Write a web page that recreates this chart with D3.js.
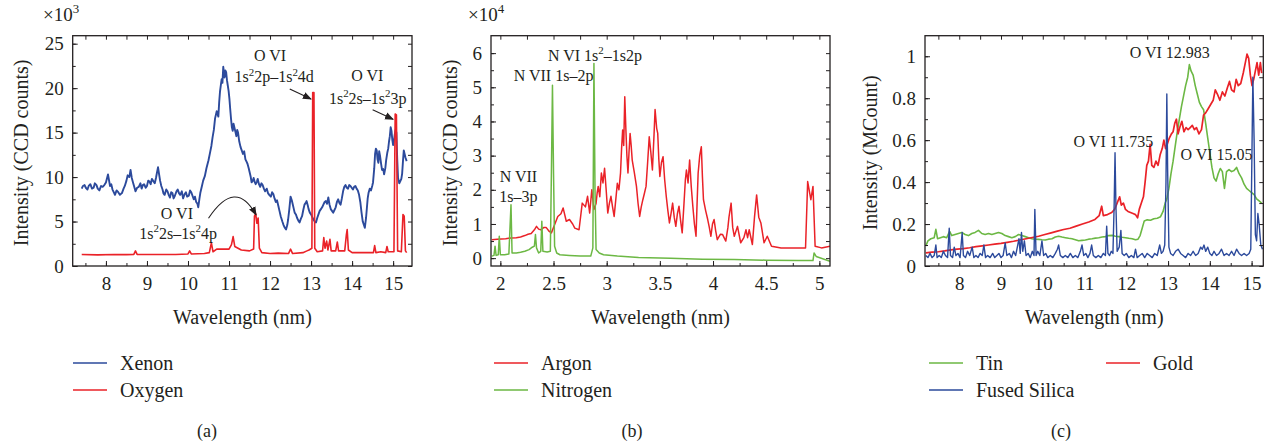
<!DOCTYPE html>
<html>
<head>
<meta charset="utf-8">
<script src="https://cdn.jsdelivr.net/npm/d3@7"></script>
<style>
  body { margin: 0; background: #fff; }
  text { font-family: "Liberation Serif", "DejaVu Serif", serif; fill: #231f20; }
</style>
</head>
<body>
<script>
// ---- data (wavelength in nm, intensity) ----
// (a) counts x10^3
const xenon = [[7.41,8.7],[7.44,9.0],[7.48,9.1],[7.51,8.8],[7.55,8.6],[7.58,9.0],[7.62,9.2],[7.66,8.7],[7.70,8.8],[7.73,9.3],[7.77,9.1],[7.80,8.7],[7.84,8.5],[7.88,9.0],[7.92,8.9],[7.96,9.1],[8.00,9.4],[8.05,10.3],[8.10,9.0],[8.13,9.2],[8.16,8.6],[8.19,8.3],[8.22,8.0],[8.26,8.5],[8.30,8.3],[8.34,8.0],[8.39,8.2],[8.43,8.7],[8.46,9.0],[8.50,9.6],[8.53,10.2],[8.57,10.0],[8.60,10.8],[8.63,9.9],[8.66,9.4],[8.69,8.9],[8.72,8.4],[8.76,8.8],[8.80,8.9],[8.84,9.3],[8.87,8.7],[8.90,9.1],[8.93,9.2],[8.97,8.8],[9.00,9.0],[9.03,9.6],[9.06,9.5],[9.09,9.2],[9.12,9.8],[9.16,9.5],[9.19,9.3],[9.22,9.9],[9.24,10.4],[9.27,11.1],[9.30,10.2],[9.32,9.6],[9.35,9.0],[9.38,8.6],[9.40,8.2],[9.43,8.0],[9.47,8.6],[9.50,8.4],[9.53,8.0],[9.56,7.7],[9.59,8.3],[9.62,8.2],[9.65,7.6],[9.68,7.9],[9.72,8.4],[9.75,8.6],[9.78,8.2],[9.81,8.0],[9.85,8.4],[9.88,7.6],[9.92,8.1],[9.95,8.3],[9.98,7.8],[10.02,7.9],[10.05,8.5],[10.08,8.3],[10.11,7.9],[10.14,7.5],[10.17,7.8],[10.20,7.2],[10.23,7.0],[10.25,6.6],[10.28,7.6],[10.30,8.2],[10.34,9.0],[10.37,9.6],[10.41,10.1],[10.45,11.0],[10.50,11.9],[10.54,12.8],[10.57,13.5],[10.60,14.5],[10.63,15.3],[10.66,16.6],[10.70,17.4],[10.74,16.8],[10.76,18.4],[10.78,19.6],[10.80,20.3],[10.82,21.0],[10.84,20.6],[10.86,22.4],[10.89,21.2],[10.91,22.0],[10.93,21.8],[10.95,20.9],[10.97,20.3],[10.99,19.7],[11.01,18.8],[11.03,17.6],[11.05,16.5],[11.07,15.6],[11.09,15.2],[11.11,16.0],[11.13,15.6],[11.16,15.0],[11.18,14.6],[11.20,15.3],[11.22,15.0],[11.25,14.0],[11.28,13.4],[11.31,13.0],[11.34,12.6],[11.37,12.9],[11.40,12.0],[11.43,11.7],[11.45,11.5],[11.48,11.0],[11.50,10.6],[11.53,10.0],[11.55,9.4],[11.58,9.6],[11.60,9.9],[11.63,9.4],[11.65,9.2],[11.68,9.5],[11.70,9.8],[11.73,9.2],[11.76,8.9],[11.79,9.3],[11.82,9.1],[11.85,8.7],[11.88,8.4],[11.92,8.7],[11.95,8.2],[11.98,8.0],[12.02,7.8],[12.05,8.3],[12.08,8.1],[12.11,7.6],[12.14,7.2],[12.17,7.4],[12.20,6.8],[12.23,6.2],[12.26,5.6],[12.30,5.0],[12.33,4.6],[12.36,4.3],[12.39,4.1],[12.42,4.6],[12.44,5.2],[12.47,6.4],[12.50,7.8],[12.53,7.4],[12.55,7.0],[12.58,6.4],[12.60,6.0],[12.63,5.8],[12.66,5.4],[12.69,5.1],[12.72,4.9],[12.75,5.3],[12.78,5.6],[12.81,6.3],[12.84,6.9],[12.87,7.1],[12.89,7.3],[12.92,6.8],[12.94,6.4],[12.97,6.0],[13.00,5.8],[13.03,5.5],[13.06,5.2],[13.09,5.0],[13.12,4.9],[13.15,5.4],[13.18,5.8],[13.21,6.2],[13.24,6.4],[13.27,6.6],[13.30,6.9],[13.33,7.2],[13.36,7.3],[13.39,7.0],[13.42,7.7],[13.45,6.9],[13.48,6.4],[13.51,6.2],[13.54,6.0],[13.57,6.3],[13.60,6.6],[13.63,7.2],[13.66,7.5],[13.69,7.1],[13.72,6.9],[13.75,7.6],[13.78,8.4],[13.81,8.9],[13.84,9.1],[13.87,8.8],[13.90,8.7],[13.93,9.1],[13.96,9.0],[13.99,8.8],[14.02,8.6],[14.05,8.9],[14.08,9.0],[14.11,8.7],[14.14,8.5],[14.17,8.0],[14.20,7.2],[14.23,6.0],[14.26,5.0],[14.29,4.6],[14.31,4.3],[14.34,5.4],[14.36,6.5],[14.38,7.6],[14.40,8.2],[14.43,8.7],[14.46,8.5],[14.49,9.0],[14.51,9.4],[14.54,11.0],[14.56,12.6],[14.58,13.2],[14.60,13.0],[14.62,12.0],[14.64,11.6],[14.66,12.9],[14.68,12.4],[14.71,11.4],[14.73,10.8],[14.76,10.9],[14.78,10.3],[14.81,11.0],[14.83,11.9],[14.86,12.8],[14.88,13.2],[14.90,14.0],[14.92,14.6],[14.94,15.6],[14.96,15.2],[14.98,14.2],[15.00,13.6],[15.02,14.1],[15.04,14.8],[15.06,15.3],[15.08,15.0],[15.10,12.0],[15.12,9.9],[15.15,9.3],[15.17,9.5],[15.20,9.8],[15.22,10.4],[15.24,11.8],[15.26,13.0],[15.28,12.6],[15.30,12.2],[15.33,11.8]];
const oxygen = [[7.41,1.3],[7.8,1.25],[8.2,1.3],[8.5,1.28],[8.68,1.3],[8.72,1.7],[8.76,1.3],[9.2,1.3],[9.7,1.3],[10.0,1.35],[10.04,1.7],[10.08,1.35],[10.4,1.4],[10.52,1.5],[10.57,2.6],[10.61,1.6],[10.7,1.9],[10.85,1.9],[11.0,1.9],[11.06,2.4],[11.1,3.3],[11.14,2.2],[11.3,1.8],[11.5,1.7],[11.6,1.9],[11.62,5.6],[11.65,5.9],[11.68,4.8],[11.71,5.4],[11.74,2.0],[11.8,1.5],[12.0,1.4],[12.2,1.45],[12.45,1.4],[12.5,1.9],[12.55,1.4],[12.8,1.5],[12.9,1.7],[12.95,1.8],[13.02,2.0],[13.04,19.5],[13.07,19.5],[13.09,2.0],[13.15,1.6],[13.28,1.7],[13.31,3.2],[13.34,2.0],[13.38,2.8],[13.41,1.8],[13.46,3.0],[13.49,1.7],[13.6,1.7],[13.64,2.7],[13.67,1.7],[13.82,1.7],[13.86,3.5],[13.88,4.1],[13.91,1.8],[14.0,1.5],[14.3,1.5],[14.52,1.5],[14.55,2.3],[14.58,1.5],[14.7,1.6],[14.82,1.5],[14.85,2.2],[14.88,1.6],[15.02,1.6],[15.05,17.1],[15.08,17.0],[15.11,1.7],[15.2,1.6],[15.24,5.8],[15.27,5.6],[15.3,1.7],[15.33,1.5]];

// (b) counts x10^4
const argon = [[1.92,0.54],[1.97,0.55],[2.01,0.56],[2.05,0.57],[2.10,0.59],[2.15,0.6],[2.19,0.62],[2.23,0.66],[2.26,0.7],[2.29,0.72],[2.32,0.83],[2.34,0.93],[2.36,0.85],[2.38,0.83],[2.41,0.9],[2.43,0.9],[2.46,0.78],[2.48,0.74],[2.51,0.98],[2.54,1.22],[2.57,1.3],[2.59,1.47],[2.62,1.08],[2.65,1.13],[2.68,1.0],[2.70,0.88],[2.74,0.83],[2.77,1.61],[2.80,1.5],[2.82,1.81],[2.84,1.32],[2.86,2.0],[2.88,1.42],[2.90,1.6],[2.91,1.9],[2.92,2.1],[2.935,1.8],[2.95,2.49],[2.965,2.2],[2.98,2.63],[2.995,2.0],[3.01,1.32],[3.025,1.6],[3.04,1.81],[3.055,1.5],[3.07,1.22],[3.085,1.7],[3.10,2.19],[3.115,2.0],[3.13,2.49],[3.14,3.2],[3.15,3.75],[3.16,3.3],[3.17,4.72],[3.18,3.8],[3.19,3.0],[3.20,2.49],[3.21,3.1],[3.22,3.65],[3.23,3.3],[3.24,2.87],[3.26,2.5],[3.28,2.1],[3.295,1.6],[3.31,1.22],[3.325,1.5],[3.34,1.71],[3.355,1.9],[3.37,2.1],[3.385,2.8],[3.40,3.55],[3.415,3.1],[3.43,2.58],[3.445,3.6],[3.455,4.35],[3.47,3.8],[3.48,3.65],[3.49,2.9],[3.50,2.39],[3.515,2.8],[3.53,2.97],[3.545,2.3],[3.56,1.81],[3.575,1.4],[3.59,1.03],[3.605,1.3],[3.62,1.61],[3.635,1.2],[3.65,0.93],[3.665,1.3],[3.68,1.52],[3.695,1.1],[3.71,0.74],[3.725,1.5],[3.74,2.3],[3.75,2.58],[3.765,2.2],[3.78,2.87],[3.795,2.1],[3.81,1.52],[3.825,1.0],[3.84,0.64],[3.85,1.6],[3.86,2.49],[3.875,3.0],[3.89,3.26],[3.90,2.4],[3.91,1.71],[3.93,1.4],[3.95,1.13],[3.965,0.9],[3.98,0.64],[3.995,1.0],[4.01,1.13],[4.025,0.8],[4.04,0.54],[4.07,0.7],[4.09,0.69],[4.12,0.5],[4.14,0.9],[4.15,1.2],[4.17,1.61],[4.185,0.9],[4.20,0.64],[4.23,0.93],[4.26,0.45],[4.29,0.6],[4.31,0.83],[4.325,0.6],[4.34,0.83],[4.37,0.4],[4.39,1.2],[4.41,1.85],[4.43,1.2],[4.45,1.03],[4.48,0.45],[4.51,0.64],[4.55,0.35],[4.64,0.3],[4.76,0.3],[4.87,0.3],[4.89,2.24],[4.92,1.71],[4.94,2.1],[4.96,0.35],[5.02,0.3],[5.10,0.35]];
const nitrogen = [[1.92,0.06],[1.94,0.08],[1.95,0.35],[1.96,0.08],[1.98,0.1],[1.99,0.64],[2.00,0.1],[2.04,0.1],[2.08,0.12],[2.10,1.56],[2.11,0.15],[2.15,0.15],[2.19,0.17],[2.23,0.2],[2.27,0.25],[2.30,0.32],[2.32,0.35],[2.33,0.69],[2.34,0.3],[2.36,0.15],[2.38,0.2],[2.39,1.08],[2.40,0.2],[2.44,0.18],[2.47,0.2],[2.48,2.5],[2.49,5.06],[2.50,2.5],[2.51,0.35],[2.53,0.15],[2.56,0.1],[2.65,0.08],[2.75,0.06],[2.85,0.06],[2.87,0.3],[2.88,5.7],[2.89,2.0],[2.90,0.25],[2.93,0.15],[2.97,0.1],[3.1,0.06],[3.3,0.02],[3.6,0],[3.9,-0.03],[4.2,-0.04],[4.5,-0.06],[4.8,-0.07],[4.94,-0.07],[4.95,0.15],[4.97,0.05],[5.10,-0.09]];

// (c) MCount
const tin = [[7.20,0.095],[7.25,0.12],[7.32,0.13],[7.40,0.135],[7.44,0.175],[7.48,0.13],[7.55,0.135],[7.62,0.14],[7.70,0.135],[7.77,0.165],[7.82,0.145],[7.90,0.15],[7.98,0.155],[8.06,0.16],[8.14,0.15],[8.22,0.145],[8.30,0.155],[8.38,0.16],[8.46,0.17],[8.54,0.155],[8.62,0.15],[8.70,0.155],[8.78,0.15],[8.86,0.155],[8.94,0.16],[9.02,0.155],[9.10,0.145],[9.18,0.14],[9.26,0.135],[9.34,0.14],[9.42,0.15],[9.50,0.145],[9.58,0.14],[9.66,0.135],[9.74,0.13],[9.82,0.128],[9.90,0.127],[9.98,0.125],[10.06,0.124],[10.14,0.128],[10.22,0.13],[10.30,0.138],[10.38,0.142],[10.46,0.138],[10.54,0.135],[10.62,0.132],[10.70,0.13],[10.78,0.125],[10.86,0.12],[10.94,0.122],[11.02,0.124],[11.10,0.128],[11.18,0.13],[11.26,0.133],[11.34,0.135],[11.42,0.138],[11.50,0.14],[11.58,0.145],[11.66,0.146],[11.74,0.142],[11.82,0.14],[11.90,0.137],[11.98,0.135],[12.06,0.132],[12.14,0.13],[12.22,0.125],[12.28,0.128],[12.33,0.145],[12.38,0.18],[12.43,0.215],[12.50,0.22],[12.58,0.218],[12.66,0.225],[12.74,0.228],[12.82,0.235],[12.88,0.26],[12.93,0.30],[12.97,0.32],[13.02,0.37],[13.07,0.44],[13.12,0.50],[13.17,0.57],[13.22,0.64],[13.27,0.70],[13.32,0.76],[13.37,0.81],[13.42,0.86],[13.47,0.90],[13.51,0.96],[13.55,0.93],[13.60,0.91],[13.65,0.86],[13.70,0.82],[13.75,0.78],[13.80,0.76],[13.85,0.745],[13.90,0.68],[13.95,0.61],[14.00,0.54],[14.05,0.47],[14.10,0.42],[14.15,0.405],[14.20,0.44],[14.25,0.465],[14.30,0.45],[14.35,0.37],[14.40,0.45],[14.46,0.46],[14.52,0.45],[14.58,0.455],[14.64,0.47],[14.70,0.44],[14.76,0.42],[14.82,0.39],[14.88,0.37],[14.94,0.36],[15.00,0.35],[15.06,0.34],[15.12,0.32],[15.18,0.31],[15.24,0.30]];
const gold = [[7.20,0.063],[7.35,0.066],[7.50,0.068],[7.65,0.072],[7.80,0.077],[7.95,0.08],[8.10,0.083],[8.25,0.087],[8.40,0.092],[8.55,0.096],[8.70,0.1],[8.85,0.104],[9.00,0.108],[9.15,0.113],[9.30,0.118],[9.45,0.124],[9.60,0.13],[9.75,0.136],[9.90,0.142],[10.05,0.15],[10.20,0.158],[10.35,0.166],[10.50,0.174],[10.65,0.18],[10.80,0.19],[10.95,0.2],[11.10,0.21],[11.25,0.222],[11.35,0.24],[11.41,0.285],[11.45,0.24],[11.55,0.245],[11.65,0.255],[11.72,0.27],[11.78,0.30],[11.84,0.33],[11.88,0.29],[11.93,0.30],[11.98,0.27],[12.04,0.26],[12.10,0.255],[12.16,0.25],[12.22,0.245],[12.27,0.23],[12.31,0.27],[12.36,0.30],[12.41,0.33],[12.45,0.40],[12.49,0.48],[12.53,0.50],[12.57,0.58],[12.61,0.48],[12.66,0.47],[12.71,0.50],[12.76,0.48],[12.81,0.53],[12.86,0.56],[12.90,0.60],[12.94,0.56],[12.98,0.58],[13.03,0.61],[13.08,0.63],[13.12,0.64],[13.16,0.68],[13.20,0.70],[13.24,0.63],[13.28,0.66],[13.33,0.69],[13.38,0.64],[13.43,0.66],[13.48,0.65],[13.53,0.66],[13.58,0.67],[13.63,0.65],[13.68,0.66],[13.74,0.63],[13.80,0.65],[13.85,0.72],[13.90,0.73],[13.96,0.75],[14.02,0.77],[14.08,0.79],[14.13,0.84],[14.18,0.82],[14.24,0.79],[14.30,0.83],[14.36,0.81],[14.42,0.85],[14.47,0.88],[14.52,0.84],[14.58,0.83],[14.63,0.89],[14.68,0.86],[14.74,0.87],[14.80,0.92],[14.85,0.97],[14.89,1.01],[14.93,0.99],[14.97,0.91],[15.01,0.86],[15.05,0.89],[15.09,0.93],[15.13,0.97],[15.17,0.91],[15.21,0.97],[15.24,0.92]];
const silica = [[7.20,0.05],[7.25,0.04],[7.30,0.06],[7.35,0.04],[7.40,0.05],[7.44,0.10],[7.47,0.04],[7.52,0.05],[7.57,0.04],[7.62,0.07],[7.67,0.05],[7.72,0.04],[7.76,0.18],[7.79,0.05],[7.84,0.04],[7.88,0.09],[7.92,0.05],[7.97,0.06],[8.02,0.04],[8.07,0.16],[8.10,0.05],[8.15,0.04],[8.20,0.07],[8.25,0.05],[8.31,0.09],[8.35,0.04],[8.40,0.05],[8.45,0.04],[8.50,0.06],[8.55,0.05],[8.59,0.10],[8.63,0.04],[8.68,0.05],[8.74,0.04],[8.80,0.06],[8.85,0.04],[8.90,0.05],[8.95,0.06],[9.00,0.04],[9.05,0.05],[9.10,0.11],[9.14,0.05],[9.20,0.06],[9.25,0.04],[9.30,0.07],[9.35,0.05],[9.40,0.10],[9.43,0.13],[9.46,0.06],[9.49,0.16],[9.52,0.07],[9.56,0.12],[9.60,0.05],[9.65,0.06],[9.70,0.04],[9.75,0.07],[9.79,0.05],[9.81,0.27],[9.84,0.05],[9.88,0.07],[9.93,0.05],[9.98,0.12],[10.02,0.05],[10.07,0.06],[10.12,0.04],[10.18,0.05],[10.24,0.04],[10.30,0.06],[10.35,0.08],[10.38,0.10],[10.42,0.05],[10.48,0.04],[10.54,0.05],[10.60,0.04],[10.66,0.06],[10.72,0.04],[10.78,0.05],[10.84,0.04],[10.90,0.07],[10.94,0.10],[10.98,0.05],[11.03,0.06],[11.08,0.04],[11.13,0.06],[11.17,0.10],[11.21,0.05],[11.27,0.04],[11.33,0.05],[11.39,0.04],[11.45,0.06],[11.50,0.05],[11.53,0.19],[11.56,0.06],[11.60,0.05],[11.64,0.07],[11.68,0.06],[11.71,0.30],[11.73,0.54],[11.75,0.30],[11.78,0.07],[11.83,0.09],[11.87,0.17],[11.90,0.06],[11.95,0.05],[12.00,0.06],[12.06,0.04],[12.12,0.05],[12.18,0.04],[12.22,0.08],[12.26,0.04],[12.32,0.05],[12.38,0.06],[12.44,0.04],[12.50,0.06],[12.56,0.05],[12.62,0.04],[12.68,0.06],[12.74,0.05],[12.80,0.10],[12.84,0.06],[12.88,0.07],[12.92,0.10],[12.95,0.40],[12.97,0.82],[12.99,0.45],[13.02,0.09],[13.06,0.06],[13.12,0.05],[13.18,0.07],[13.24,0.08],[13.30,0.06],[13.36,0.05],[13.42,0.04],[13.48,0.06],[13.54,0.05],[13.60,0.07],[13.66,0.05],[13.72,0.06],[13.78,0.09],[13.82,0.08],[13.86,0.10],[13.90,0.07],[13.95,0.09],[14.00,0.06],[14.05,0.05],[14.10,0.07],[14.16,0.05],[14.22,0.06],[14.28,0.08],[14.34,0.05],[14.40,0.06],[14.46,0.05],[14.52,0.07],[14.58,0.05],[14.64,0.08],[14.70,0.06],[14.76,0.05],[14.82,0.06],[14.88,0.05],[14.94,0.06],[14.98,0.08],[15.00,0.40],[15.03,0.90],[15.06,0.60],[15.09,0.15],[15.12,0.12],[15.15,0.25],[15.18,0.20],[15.22,0.10],[15.26,0.08]];

// tick labels
const aXTicks = [8, 9, 10, 11, 12, 13, 14, 15];
const aYTicks = [0, 5, 10, 15, 20, 25];
const bXTicks = [2, 2.5, 3, 3.5, 4, 4.5, 5];
const bYTicks = [0, 1, 2, 3, 4, 5, 6];
const cXTicks = [8, 9, 10, 11, 12, 13, 14, 15];
const cYTicks = [0, 0.2, 0.4, 0.6, 0.8, 1];

const BLUE = "#2c4a9c", RED = "#ea2228", GREEN = "#6cb844";

const svg = d3.select("body").append("svg").attr("width", 1269).attr("height", 444);

svg.append("defs").append("marker")
  .attr("id", "arrow").attr("viewBox", "0 0 10 10").attr("refX", 9).attr("refY", 5)
  .attr("markerWidth", 9).attr("markerHeight", 9).attr("orient", "auto-start-reverse")
  .attr("markerUnits", "userSpaceOnUse")
  .append("path").attr("d", "M0,1 L10,5 L0,9 z").attr("fill", "#231f20");

// text with ^x superscripts
function richText(sel, str, size) {
  let down = false;
  str.split(/(\^.)/).forEach(pt => {
    if (!pt) return;
    if (pt[0] === "^") {
      sel.append("tspan").attr("font-size", size * 0.68).attr("dy", -size * 0.42).text(pt[1]);
      down = true;
    } else {
      const t = sel.append("tspan").text(pt);
      if (down) { t.attr("dy", size * 0.42); down = false; }
    }
  });
}

const panels = [
  { id: "a", left: 72.7, right: 412, top: 35.7, bottom: 266,
    xDomain: [7.19, 15.46], yDomain: [0, 25.9],
    xTicks: aXTicks, xMinor: d3.range(7.5, 15.5, 0.5),
    yTicks: aYTicks, yMinor: d3.range(0, 26, 2.5),
    ylabel: "Intensity (CCD counts)", ylabelX: 21, exp: "×10^3", expX: 43,
    series: [{ data: xenon, color: BLUE, w: 1.9 }, { data: oxygen, color: RED, w: 1.6 }],
    notes: [
      { t: "O VI", x: 12.0, y: 23.68 }, { t: "1s^22p–1s^24d", x: 12.10, y: 21.28 },
      { t: "O VI", x: 14.37, y: 21.46 }, { t: "1s^22s–1s^23p", x: 14.38, y: 18.87 },
      { t: "O VI", x: 9.73, y: 5.92 }, { t: "1s^22s–1s^24p", x: 9.76, y: 3.71 }
    ],
    arrows: [
      { from: [12.48, 19.9], to: [13.0, 18.78] },
      { from: [14.50, 17.57], to: [15.0, 16.5] },
      { from: [10.50, 5.37], ctrl: [11.16, 9.97], to: [11.66, 5.74] }
    ],
    legend: [{ name: "Xenon", color: BLUE, x: 73, y: 363 }, { name: "Oxygen", color: RED, x: 73, y: 390 }],
    tag: "(a)", tagX: 207 },
  { id: "b", left: 491, right: 830, top: 35.7, bottom: 266,
    xDomain: [1.912, 5.10], yDomain: [-0.23, 6.51],
    xTicks: bXTicks, xMinor: d3.range(2, 5.1, 0.25),
    yTicks: bYTicks, yMinor: d3.range(0, 6.5, 0.5),
    ylabel: "Intensity (CCD counts)", ylabelX: 450, exp: "×10^4", expX: 468,
    series: [{ data: argon, color: RED, w: 1.5 }, { data: nitrogen, color: GREEN, w: 1.5 }],
    notes: [
      { t: "N VI 1s^2–1s2p", x: 2.89, y: 5.93 }, { t: "N VII 1s–2p", x: 2.50, y: 5.35 },
      { t: "N VII", x: 2.17, y: 2.39 }, { t: "1s–3p", x: 2.17, y: 1.81 }
    ],
    arrows: [],
    legend: [{ name: "Argon", color: RED, x: 494, y: 363 }, { name: "Nitrogen", color: GREEN, x: 494, y: 390 }],
    tag: "(b)", tagX: 632 },
  { id: "c", left: 925, right: 1263.3, top: 35.7, bottom: 266,
    xDomain: [7.18, 15.28], yDomain: [0, 1.098],
    xTicks: cXTicks, xMinor: d3.range(7.5, 15.5, 0.5),
    yTicks: cYTicks, yMinor: d3.range(0, 1.1, 0.1),
    ylabel: "Intensity (MCount)", ylabelX: 870, exp: null,
    series: [{ data: tin, color: GREEN, w: 1.6 }, { data: gold, color: RED, w: 1.7 }, { data: silica, color: BLUE, w: 1.4 }],
    notes: [
      { t: "O VI 12.983", x: 13.04, y: 1.016 }, { t: "O VI 11.735", x: 11.69, y: 0.595 },
      { t: "O VI 15.05", x: 14.16, y: 0.532 }
    ],
    arrows: [],
    legend: [{ name: "Tin", color: GREEN, x: 929, y: 363 }, { name: "Gold", color: RED, x: 1106, y: 363 },
             { name: "Fused Silica", color: BLUE, x: 929, y: 390 }],
    tag: "(c)", tagX: 1061 }
];

const fmt = d3.format("~g");

panels.forEach(p => {
  const x = d3.scaleLinear().domain(p.xDomain).range([p.left, p.right]);
  const y = d3.scaleLinear().domain(p.yDomain).range([p.bottom, p.top]);
  const g = svg.append("g");

  g.append("clipPath").attr("id", "clip-" + p.id).append("rect")
    .attr("x", p.left).attr("y", p.top).attr("width", p.right - p.left).attr("height", p.bottom - p.top);

  const line = d3.line().x(d => x(d[0])).y(d => y(d[1]));
  p.series.forEach(s => {
    g.append("path").datum(s.data).attr("clip-path", `url(#clip-${p.id})`)
      .attr("fill", "none").attr("stroke", s.color).attr("stroke-width", s.w)
      .attr("stroke-linejoin", "round").attr("d", line);
  });

  // axes with inward ticks on all four sides
  const styleAxis = sel => {
    sel.select(".domain").remove();
    sel.selectAll(".tick line").attr("stroke", "#231f20").attr("stroke-width", 1);
    sel.selectAll("text").attr("font-size", 19).attr("font-family", "Liberation Serif").attr("fill", "#231f20");
  };
  g.append("g").attr("transform", `translate(0,${p.bottom})`)
    .call(d3.axisBottom(x).tickValues(p.xTicks).tickSize(-5).tickPadding(11).tickFormat(fmt)).call(styleAxis);
  g.append("g").attr("transform", `translate(0,${p.bottom})`)
    .call(d3.axisBottom(x).tickValues(p.xMinor).tickSize(-3).tickFormat("")).call(styleAxis);
  g.append("g").attr("transform", `translate(0,${p.top})`)
    .call(d3.axisTop(x).tickValues(p.xMinor).tickSize(-4).tickFormat("")).call(styleAxis);
  g.append("g").attr("transform", `translate(${p.left},0)`)
    .call(d3.axisLeft(y).tickValues(p.yTicks).tickSize(-5).tickPadding(9).tickFormat(fmt)).call(styleAxis);
  g.append("g").attr("transform", `translate(${p.left},0)`)
    .call(d3.axisLeft(y).tickValues(p.yMinor).tickSize(-3).tickFormat("")).call(styleAxis);
  g.append("g").attr("transform", `translate(${p.right},0)`)
    .call(d3.axisRight(y).tickValues(p.yMinor).tickSize(-4).tickFormat("")).call(styleAxis);

  g.append("rect").attr("x", p.left).attr("y", p.top)
    .attr("width", p.right - p.left).attr("height", p.bottom - p.top)
    .attr("fill", "none").attr("stroke", "#231f20").attr("stroke-width", 1.3);

  // axis titles
  g.append("text").attr("transform", `translate(${p.ylabelX},${(p.top + p.bottom) / 2 + 2}) rotate(-90)`)
    .attr("text-anchor", "middle").attr("dy", "0.35em").attr("font-size", 20).text(p.ylabel);
  g.append("text").attr("x", (p.left + p.right) / 2).attr("y", 317).attr("dy", "0.35em")
    .attr("text-anchor", "middle").attr("font-size", 20).text("Wavelength (nm)");
  if (p.exp) {
    richText(g.append("text").attr("x", p.expX).attr("y", 21).attr("font-size", 19), p.exp, 19);
  }

  // annotations
  p.notes.forEach(n => {
    richText(g.append("text").attr("x", x(n.x)).attr("y", y(n.y)).attr("dy", "0.35em")
      .attr("text-anchor", "middle").attr("font-size", 16), n.t, 16);
  });
  p.arrows.forEach(a => {
    const path = a.ctrl
      ? `M${x(a.from[0])},${y(a.from[1])} Q${x(a.ctrl[0])},${y(a.ctrl[1])} ${x(a.to[0])},${y(a.to[1])}`
      : `M${x(a.from[0])},${y(a.from[1])} L${x(a.to[0])},${y(a.to[1])}`;
    g.append("path").attr("d", path).attr("fill", "none").attr("stroke", "#231f20")
      .attr("stroke-width", 1.1).attr("marker-end", "url(#arrow)");
  });

  // legend
  p.legend.forEach(l => {
    g.append("line").attr("x1", l.x).attr("x2", l.x + 34).attr("y1", l.y).attr("y2", l.y)
      .attr("stroke", l.color).attr("stroke-width", 2).attr("opacity", 0.75);
    g.append("text").attr("x", l.x + 47).attr("y", l.y).attr("dy", "0.35em")
      .attr("font-size", 20).text(l.name);
  });

  g.append("text").attr("x", p.tagX).attr("y", 431).attr("dy", "0.35em")
    .attr("text-anchor", "middle").attr("font-size", 18).text(p.tag);
});
</script>
</body>
</html>
